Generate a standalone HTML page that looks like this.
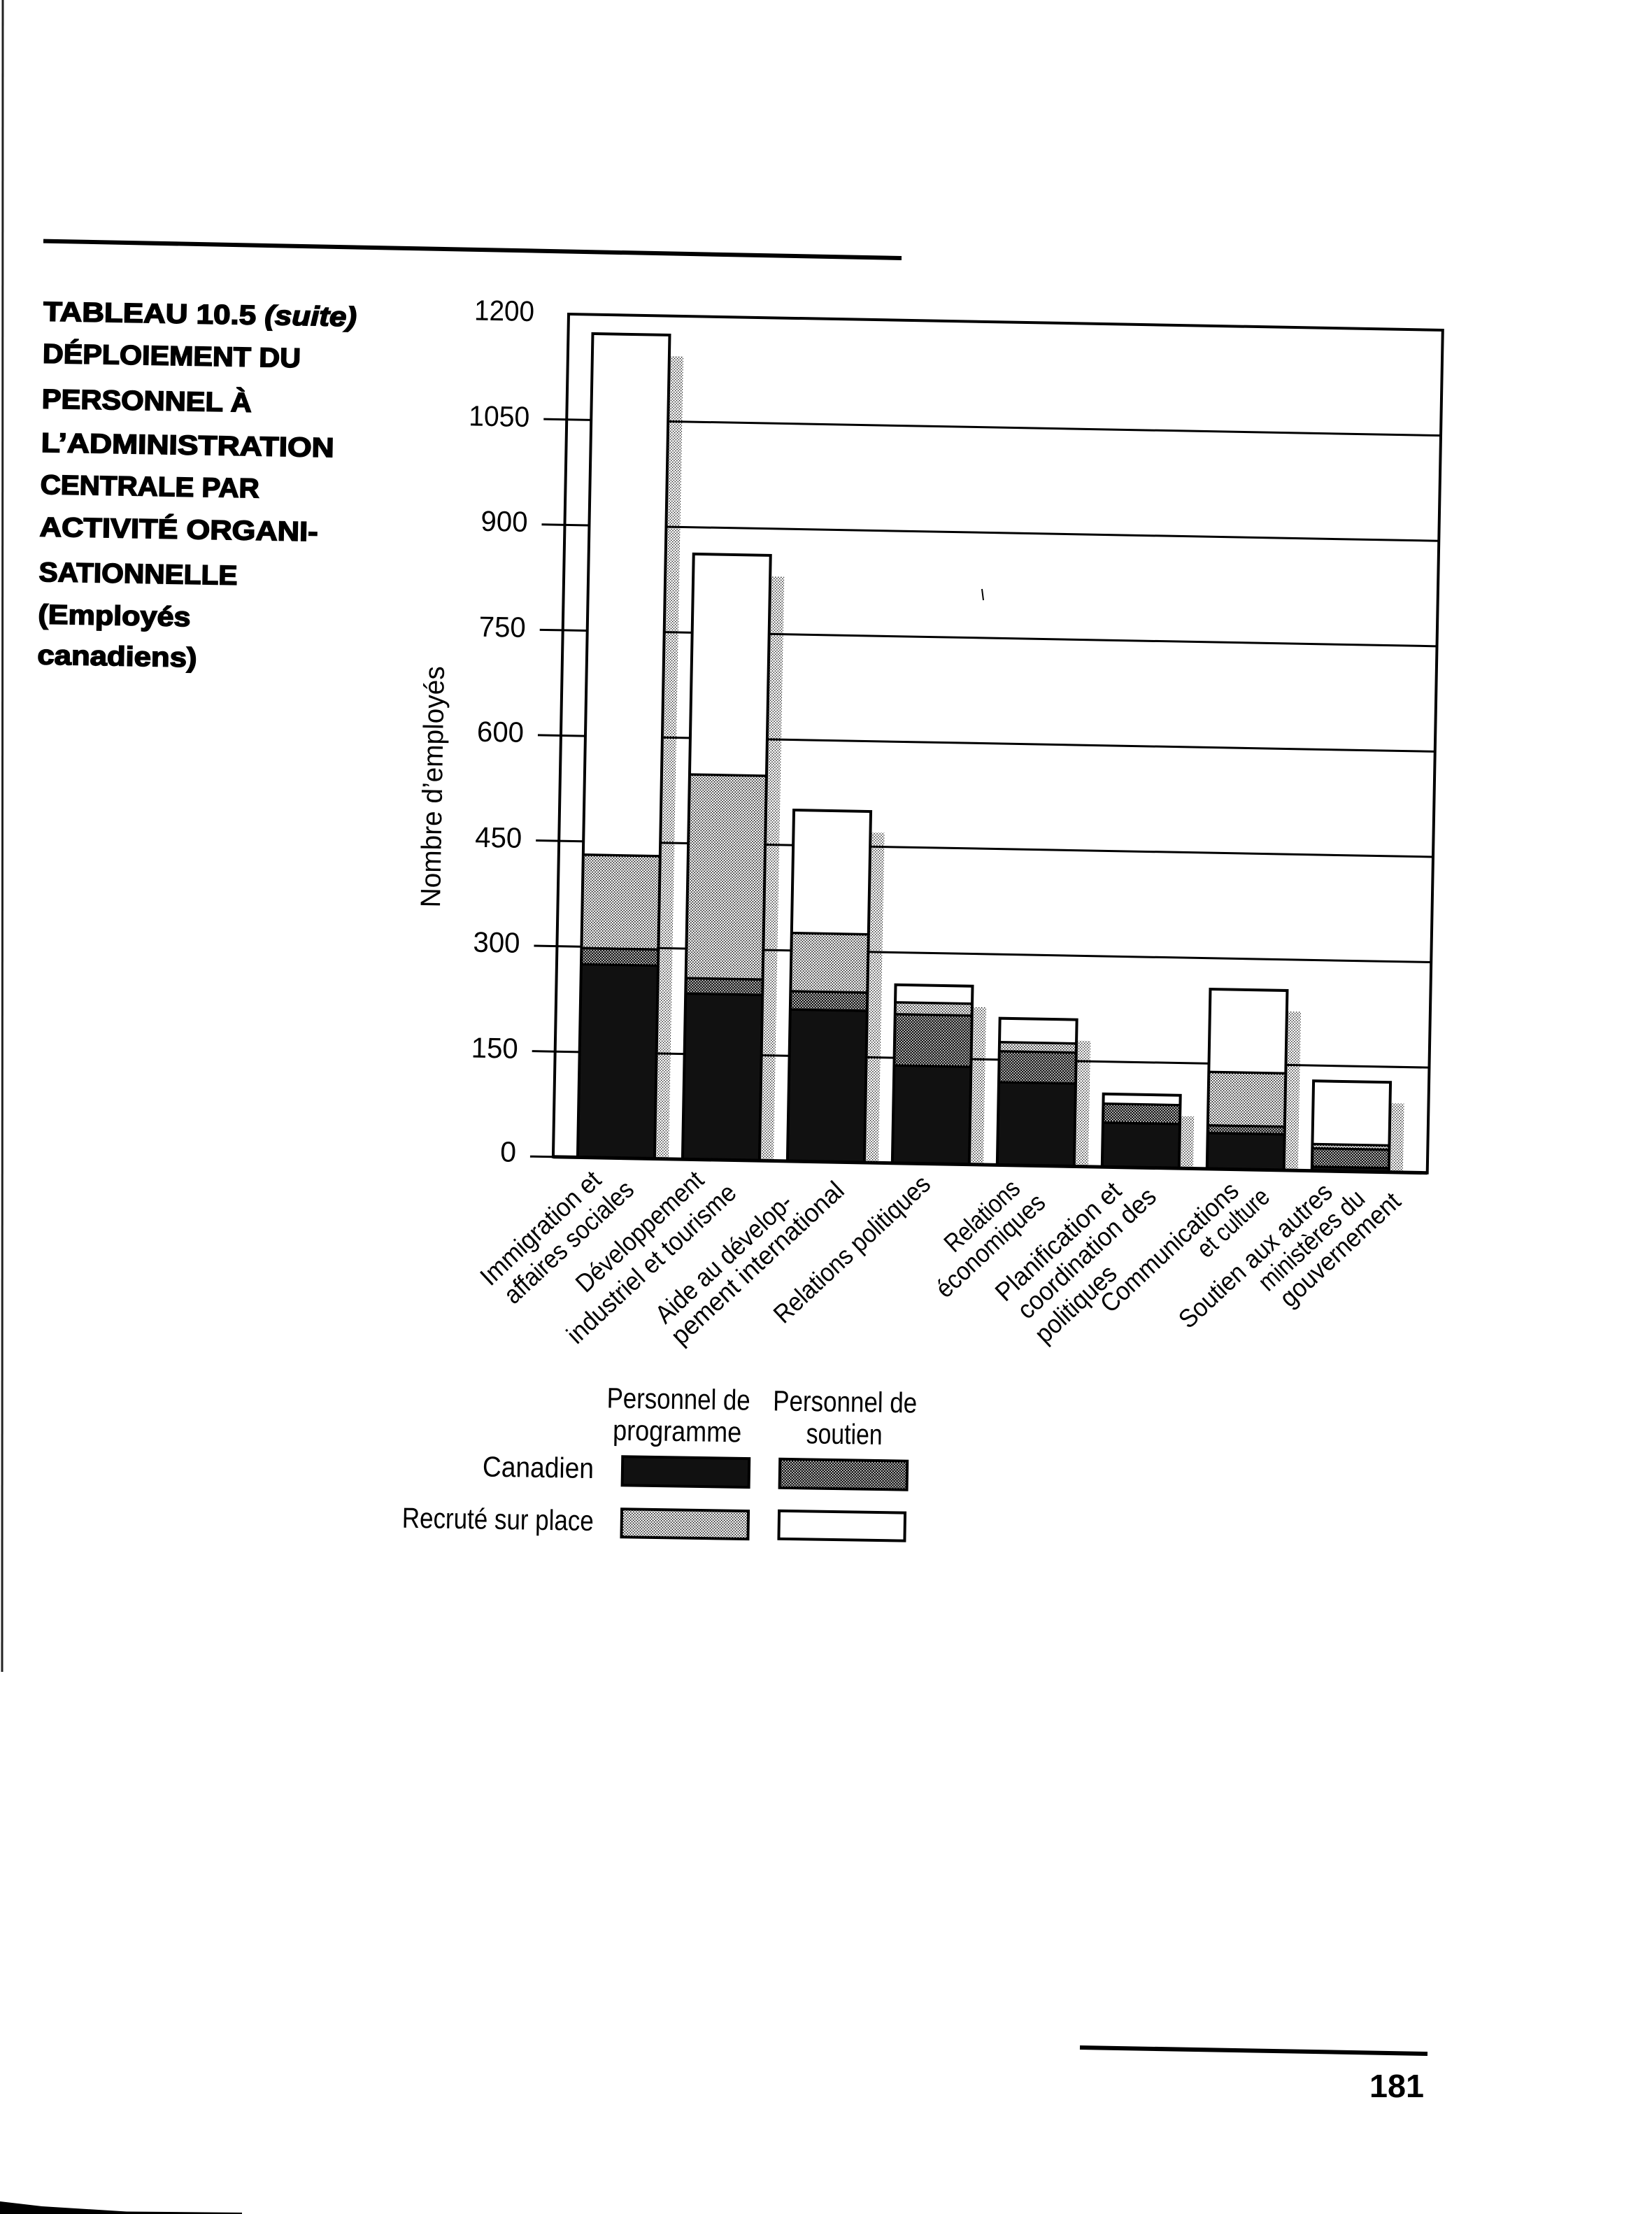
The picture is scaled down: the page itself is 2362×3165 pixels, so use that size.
<!DOCTYPE html>
<html><head><meta charset="utf-8"><style>html,body{margin:0;padding:0;background:#fff}svg{display:block}</style></head>
<body>
<svg xmlns="http://www.w3.org/2000/svg" width="2362" height="3165" viewBox="0 0 2362 3165">
<defs>
<pattern id="dk" width="4" height="4" patternUnits="userSpaceOnUse"><rect width="4" height="4" fill="#000"/><rect width="1.7" height="1.7" fill="#fff"/><rect x="2" y="2" width="1.7" height="1.7" fill="#fff"/></pattern>
<pattern id="lt" width="4" height="4" patternUnits="userSpaceOnUse"><rect width="4" height="4" fill="#fff"/><rect width="1.6" height="1.6" fill="#000"/><rect x="2" y="2" width="1.6" height="1.6" fill="#000"/></pattern>
<pattern id="sh" width="4" height="4" patternUnits="userSpaceOnUse"><rect width="4" height="4" fill="#fff"/><rect width="1.4" height="1.4" fill="#000"/><rect x="2" y="2" width="1.4" height="1.4" fill="#000"/></pattern>
</defs>
<rect width="2362" height="3165" fill="#fff"/>
<line x1="4" y1="0" x2="3" y2="2390" stroke="#222" stroke-width="3"/>
<polygon points="0,3147 60,3154 181,3161.5 346,3163 346,3165 0,3165" fill="#000"/>
<line x1="62" y1="344.6" x2="1289" y2="369" stroke="#000" stroke-width="6"/>
<line x1="1404" y1="842" x2="1406" y2="858" stroke="#000" stroke-width="2"/>

<g transform="rotate(1 62 450)" font-family="Liberation Sans, sans-serif" font-weight="bold" font-size="39" fill="#000" stroke="#000" stroke-width="1.6">
<text x="62" y="458.5" textLength="448" lengthAdjust="spacingAndGlyphs">TABLEAU 10.5 <tspan font-style="italic">(suite)</tspan></text>
<text x="62" y="518.7" textLength="369" lengthAdjust="spacingAndGlyphs">DÉPLOIEMENT DU</text>
<text x="62" y="583.5" textLength="300" lengthAdjust="spacingAndGlyphs">PERSONNEL À</text>
<text x="62" y="646" textLength="419" lengthAdjust="spacingAndGlyphs">L’ADMINISTRATION</text>
<text x="62" y="706" textLength="313" lengthAdjust="spacingAndGlyphs">CENTRALE PAR</text>
<text x="62" y="766.5" textLength="398" lengthAdjust="spacingAndGlyphs">ACTIVITÉ ORGANI-</text>
<text x="62" y="831" textLength="284" lengthAdjust="spacingAndGlyphs">SATIONNELLE</text>
<text x="62" y="891.5" textLength="218" lengthAdjust="spacingAndGlyphs">(Employés</text>
<text x="62" y="949.5" textLength="228" lengthAdjust="spacingAndGlyphs">canadiens)</text>
</g>

<g transform="translate(813 449) rotate(1.05)">
<g fill="url(#sh)">
<rect x="145" y="57.3" width="20" height="1147.7"/>
<rect x="295" y="369.6" width="20" height="835.4"/>
<rect x="445" y="733" width="20" height="472"/>
<rect x="595" y="980" width="20" height="225"/>
<rect x="745" y="1025.2" width="20" height="179.8"/>
<rect x="895" y="1130.6" width="20" height="74.4"/>
<rect x="1045" y="978" width="20" height="227"/>
<rect x="1195" y="1106.5" width="20" height="98.5"/>
</g>
<g stroke="#000" stroke-width="3">
<line x1="0" y1="1054.4" x2="1250" y2="1054.4"/>
<line x1="0" y1="903.8" x2="1250" y2="903.8"/>
<line x1="0" y1="753.2" x2="1250" y2="753.2"/>
<line x1="0" y1="602.6" x2="1250" y2="602.6"/>
<line x1="0" y1="452" x2="1250" y2="452"/>
<line x1="0" y1="301.4" x2="1250" y2="301.4"/>
<line x1="0" y1="150.8" x2="1250" y2="150.8"/>
</g>
<g>
<rect x="35" y="928.9" width="110" height="276.1" fill="#111"/>
<rect x="35" y="905.8" width="110" height="23.1" fill="url(#dk)"/>
<rect x="35" y="772.3" width="110" height="133.5" fill="url(#lt)"/>
<rect x="35" y="27.3" width="110" height="745" fill="#fff"/>
<rect x="185" y="968.1" width="110" height="236.9" fill="#111"/>
<rect x="185" y="946" width="110" height="22.1" fill="url(#dk)"/>
<rect x="185" y="654.8" width="110" height="291.2" fill="url(#lt)"/>
<rect x="185" y="339.6" width="110" height="315.2" fill="#fff"/>
<rect x="335" y="988.1" width="110" height="216.9" fill="#111"/>
<rect x="335" y="962" width="110" height="26.1" fill="url(#dk)"/>
<rect x="335" y="878.7" width="110" height="83.3" fill="url(#lt)"/>
<rect x="335" y="703" width="110" height="175.7" fill="#fff"/>
<rect x="485" y="1065.4" width="110" height="139.6" fill="#111"/>
<rect x="485" y="992.2" width="110" height="73.2" fill="url(#dk)"/>
<rect x="485" y="975.1" width="110" height="17.1" fill="url(#lt)"/>
<rect x="485" y="950" width="110" height="25.1" fill="#fff"/>
<rect x="635" y="1086.5" width="110" height="118.5" fill="#111"/>
<rect x="635" y="1042.4" width="110" height="44.1" fill="url(#dk)"/>
<rect x="635" y="1029.3" width="110" height="13.1" fill="url(#lt)"/>
<rect x="635" y="995.2" width="110" height="34.1" fill="#fff"/>
<rect x="785" y="1141.7" width="110" height="63.3" fill="#111"/>
<rect x="785" y="1114.6" width="110" height="27.1" fill="url(#dk)"/>
<rect x="785" y="1100.6" width="110" height="14" fill="#fff"/>
<rect x="935" y="1153.8" width="110" height="51.2" fill="#111"/>
<rect x="935" y="1142.8" width="110" height="11" fill="url(#dk)"/>
<rect x="935" y="1066.4" width="110" height="76.4" fill="url(#lt)"/>
<rect x="935" y="948" width="110" height="118.4" fill="#fff"/>
<rect x="1085" y="1199" width="110" height="6" fill="#111"/>
<rect x="1085" y="1172.9" width="110" height="26.1" fill="url(#dk)"/>
<rect x="1085" y="1166.8" width="110" height="6.1" fill="url(#lt)"/>
<rect x="1085" y="1076.5" width="110" height="90.3" fill="#fff"/>
</g>
<g stroke="#000" stroke-width="3.5">
<line x1="35" y1="928.9" x2="145" y2="928.9"/><line x1="35" y1="905.8" x2="145" y2="905.8"/><line x1="35" y1="772.3" x2="145" y2="772.3"/>
<line x1="185" y1="968.1" x2="295" y2="968.1"/><line x1="185" y1="946" x2="295" y2="946"/><line x1="185" y1="654.8" x2="295" y2="654.8"/>
<line x1="335" y1="988.1" x2="445" y2="988.1"/><line x1="335" y1="962" x2="445" y2="962"/><line x1="335" y1="878.7" x2="445" y2="878.7"/>
<line x1="485" y1="1065.4" x2="595" y2="1065.4"/><line x1="485" y1="992.2" x2="595" y2="992.2"/><line x1="485" y1="975.1" x2="595" y2="975.1"/>
<line x1="635" y1="1086.5" x2="745" y2="1086.5"/><line x1="635" y1="1042.4" x2="745" y2="1042.4"/><line x1="635" y1="1029.3" x2="745" y2="1029.3"/>
<line x1="785" y1="1141.7" x2="895" y2="1141.7"/><line x1="785" y1="1114.6" x2="895" y2="1114.6"/>
<line x1="935" y1="1153.8" x2="1045" y2="1153.8"/><line x1="935" y1="1142.8" x2="1045" y2="1142.8"/><line x1="935" y1="1066.4" x2="1045" y2="1066.4"/>
<line x1="1085" y1="1199" x2="1195" y2="1199"/><line x1="1085" y1="1172.9" x2="1195" y2="1172.9"/><line x1="1085" y1="1166.8" x2="1195" y2="1166.8"/>
</g>
<g fill="none" stroke="#000" stroke-width="4">
<rect x="35" y="27.3" width="110" height="1177.7"/>
<rect x="185" y="339.6" width="110" height="865.4"/>
<rect x="335" y="703" width="110" height="502"/>
<rect x="485" y="950" width="110" height="255"/>
<rect x="635" y="995.2" width="110" height="209.8"/>
<rect x="785" y="1100.6" width="110" height="104.4"/>
<rect x="935" y="948" width="110" height="257"/>
<rect x="1085" y="1076.5" width="110" height="128.5"/>
</g>
<rect x="0" y="0" width="1250" height="1205" fill="none" stroke="#000" stroke-width="4"/>
<line x1="0" y1="1205" x2="1250" y2="1205" stroke="#000" stroke-width="5"/>
<g stroke="#000" stroke-width="3">
<line x1="-33" y1="1205" x2="0" y2="1205"/>
<line x1="-33" y1="1054.4" x2="0" y2="1054.4"/>
<line x1="-33" y1="903.8" x2="0" y2="903.8"/>
<line x1="-33" y1="753.2" x2="0" y2="753.2"/>
<line x1="-33" y1="602.6" x2="0" y2="602.6"/>
<line x1="-33" y1="452" x2="0" y2="452"/>
<line x1="-33" y1="301.4" x2="0" y2="301.4"/>
<line x1="-33" y1="150.8" x2="0" y2="150.8"/>
</g>
<g font-family="Liberation Sans, sans-serif" font-size="41" text-anchor="end" fill="#000">
<text x="-49" y="11" textLength="86" lengthAdjust="spacingAndGlyphs">1200</text>
<text x="-53" y="162" textLength="87" lengthAdjust="spacingAndGlyphs">1050</text>
<text x="-53" y="312" textLength="67" lengthAdjust="spacingAndGlyphs">900</text>
<text x="-53" y="463" textLength="67" lengthAdjust="spacingAndGlyphs">750</text>
<text x="-53" y="613" textLength="67" lengthAdjust="spacingAndGlyphs">600</text>
<text x="-53" y="764" textLength="67" lengthAdjust="spacingAndGlyphs">450</text>
<text x="-53" y="914" textLength="67" lengthAdjust="spacingAndGlyphs">300</text>
<text x="-53" y="1065" textLength="67" lengthAdjust="spacingAndGlyphs">150</text>
<text x="-53" y="1213">0</text>
</g>
</g>

<text transform="translate(632 1125) rotate(-89)" text-anchor="middle" font-family="Liberation Sans, sans-serif" font-size="40" textLength="345" lengthAdjust="spacingAndGlyphs" fill="#000">Nombre d’employés</text>

<g font-family="Liberation Sans, sans-serif" font-size="37" text-anchor="middle" fill="#000">
<text transform="translate(781.4 1764.7) rotate(-43)" textLength="220" lengthAdjust="spacingAndGlyphs">Immigration et</text>
<text transform="translate(821.6 1784.7) rotate(-43)" textLength="238" lengthAdjust="spacingAndGlyphs">affaires sociales</text>
<text transform="translate(923.1 1769.7) rotate(-43)" textLength="234" lengthAdjust="spacingAndGlyphs">Développement</text>
<text transform="translate(939.9 1815.5) rotate(-43)" textLength="315" lengthAdjust="spacingAndGlyphs">industriel et tourisme</text>
<text transform="translate(1043.5 1808) rotate(-43)" textLength="252" lengthAdjust="spacingAndGlyphs">Aide au dévelop-</text>
<text transform="translate(1091.5 1814.7) rotate(-43)" textLength="322" lengthAdjust="spacingAndGlyphs">pement international</text>
<text transform="translate(1226.5 1794.7) rotate(-43)" textLength="290" lengthAdjust="spacingAndGlyphs">Relations politiques</text>
<text transform="translate(1412.5 1747) rotate(-43)" textLength="132" lengthAdjust="spacingAndGlyphs">Relations</text>
<text transform="translate(1424.5 1789.7) rotate(-43)" textLength="198" lengthAdjust="spacingAndGlyphs">économiques</text>
<text transform="translate(1521.5 1783.8) rotate(-43)" textLength="230" lengthAdjust="spacingAndGlyphs">Planification et</text>
<text transform="translate(1562.2 1800.5) rotate(-43)" textLength="255" lengthAdjust="spacingAndGlyphs">coordination des</text>
<text transform="translate(1546.5 1873) rotate(-43)" textLength="144" lengthAdjust="spacingAndGlyphs">politiques</text>
<text transform="translate(1680.5 1792) rotate(-43)" textLength="254" lengthAdjust="spacingAndGlyphs">Communications</text>
<text transform="translate(1771.5 1757) rotate(-43)" textLength="126" lengthAdjust="spacingAndGlyphs">et culture</text>
<text transform="translate(1803.5 1804) rotate(-43)" textLength="284" lengthAdjust="spacingAndGlyphs">Soutien aux autres</text>
<text transform="translate(1883.5 1782) rotate(-43)" textLength="192" lengthAdjust="spacingAndGlyphs">ministères du</text>
<text transform="translate(1924.5 1795.5) rotate(-43)" textLength="220" lengthAdjust="spacingAndGlyphs">gouvernement</text>
</g>

<g transform="rotate(0.9 1000 2100)" font-family="Liberation Sans, sans-serif" font-size="41" fill="#000">
<text x="968.6" y="2014.5" text-anchor="middle" textLength="205" lengthAdjust="spacingAndGlyphs">Personnel de</text>
<text x="967.4" y="2060.5" text-anchor="middle" textLength="184" lengthAdjust="spacingAndGlyphs">programme</text>
<text x="1206.7" y="2014.7" text-anchor="middle" textLength="206" lengthAdjust="spacingAndGlyphs">Personnel de</text>
<text x="1206.4" y="2060.8" text-anchor="middle" textLength="109" lengthAdjust="spacingAndGlyphs">soutien</text>
<text x="849" y="2115.4" text-anchor="end" textLength="159" lengthAdjust="spacingAndGlyphs">Canadien</text>
<text x="850" y="2190.4" text-anchor="end" textLength="274" lengthAdjust="spacingAndGlyphs">Recruté sur place</text>
<rect x="890" y="2084" width="181" height="41" fill="#111" stroke="#000" stroke-width="4"/>
<rect x="1115" y="2084" width="182" height="41" fill="url(#dk)" stroke="#000" stroke-width="4"/>
<rect x="890" y="2159" width="181" height="40" fill="url(#lt)" stroke="#000" stroke-width="4"/>
<rect x="1115" y="2158" width="180" height="40" fill="#fff" stroke="#000" stroke-width="4"/>
</g>

<line x1="1544" y1="2927" x2="2041" y2="2936" stroke="#000" stroke-width="6"/>
<text x="1997" y="2998" text-anchor="middle" font-family="Liberation Sans, sans-serif" font-weight="bold" font-size="46" textLength="78" lengthAdjust="spacingAndGlyphs" fill="#000">181</text>
</svg>
</body></html>
